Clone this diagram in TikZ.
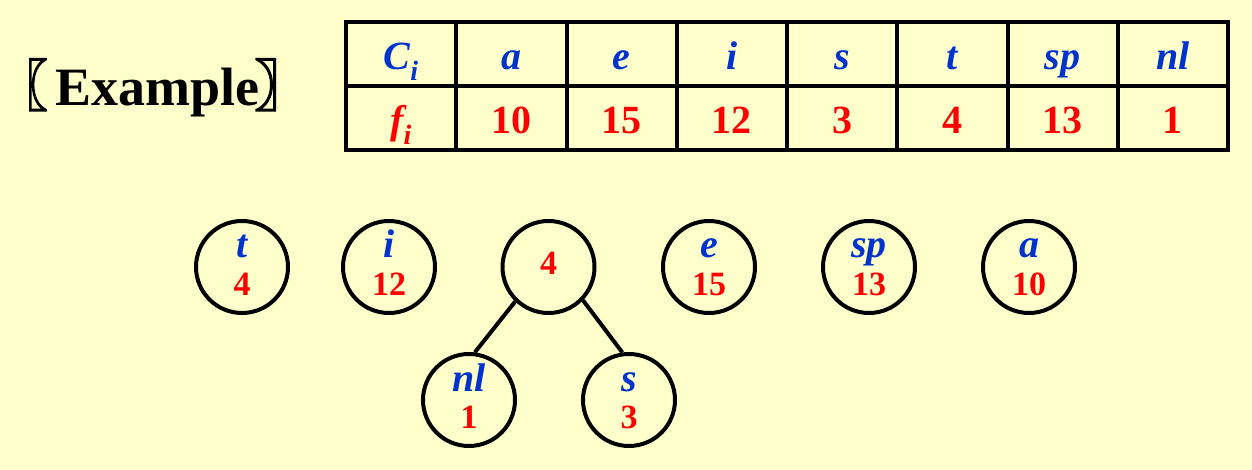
\documentclass[tikz,border=0pt]{standalone}
\usepackage{fontspec}
\usepackage{graphicx}
\setmainfont{Liberation Serif}
\newfontfamily\cjk[FakeBold=3]{Noto Sans CJK SC}
\definecolor{bgyellow}{RGB}{255,255,204}
\definecolor{cblue}{RGB}{0,51,204}
\definecolor{cred}{RGB}{255,0,0}
\begin{document}
\begin{tikzpicture}[x=1pt,y=-1pt,
  cell/.style={draw=black, line width=4pt, minimum width=110.25pt, minimum height=64pt,
    inner sep=0pt, text height=32pt, text depth=0pt,
    font=\fontsize{40pt}{44pt}\selectfont\bfseries},
  hd/.style={cell, text=cblue, font=\fontsize{40pt}{44pt}\selectfont\bfseries\itshape},
  fq/.style={cell, text=cred},
  circ/.style={circle, draw=black, line width=4pt, minimum size=92pt, inner sep=0pt},
  ltr/.style={anchor=base, inner sep=0pt, text=cblue, font=\fontsize{40pt}{44pt}\selectfont\bfseries\itshape},
  num/.style={anchor=base, inner sep=0pt, text=cred, font=\fontsize{34pt}{38pt}\selectfont\bfseries},
  ttl/.style={inner sep=0pt, font=\fontsize{54pt}{58pt}\selectfont\bfseries},
  brk/.style={inner sep=0pt, font=\fontsize{56pt}{60pt}\selectfont\cjk},
  edge/.style={line width=4pt, draw=black}
]
\fill[bgyellow] (0,0) rectangle (1252,470);
\useasboundingbox (0,0) rectangle (1252,470);

% title
\node[ttl, anchor=base] (ex) at (157.5,106) {Example};
\node[brk, anchor=base west] (lb) at (0,106) {\scalebox{0.85}[1]{〖}};
\node[brk, anchor=base west] (rb) at (254,106) {〗};

% table
\foreach \k/\c/\f in {0/{C\textsubscript{i}}/{\itshape f\textsubscript{i}},1/a/10,2/e/15,3/i/12,4/s/3,5/t/4,6/sp/13,7/nl/1}{
  \node[hd] (h\k) at ({346+110.25*(\k+0.5)},54) {\c};
  \node[fq] (v\k) at ({346+110.25*(\k+0.5)},118) {\f};
}

% circles
\foreach \n/\x/\y/\l/\v in {t/242/267/t/4, i/389/267/i/12, e/709/267/e/15, sp/869/267/sp/13, a/1029/267/a/10, nl/469/400/nl/1, s/629/400/s/3}{
  \node[circ] (c\n) at (\x,\y) {};
  \node[ltr] (c\n-l) at ([yshift=9pt]c\n.center) {\l};
  \node[num] (c\n-n) at ([yshift=-28pt]c\n.center) {\v};
}
\node[circ] (p4) at (548.5,267) {};
\node[num] (p4-n) at ([yshift=-8pt]p4.center) {4};

\draw[edge] (p4.226) -- (cnl.83);
\draw[edge] (p4.316) -- (cs.98);
\end{tikzpicture}
\end{document}
